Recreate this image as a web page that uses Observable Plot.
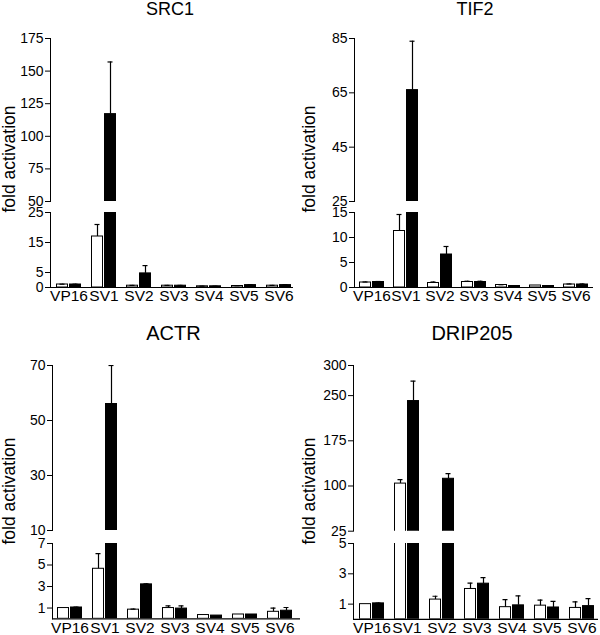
<!DOCTYPE html>
<html><head><meta charset="utf-8">
<script src="https://cdn.jsdelivr.net/npm/d3@7"></script>
<script src="https://cdn.jsdelivr.net/npm/@observablehq/plot@0.6"></script>
<style>
body{margin:0;background:#fff;}
#chart{position:relative;width:600px;height:635px;font-family:"Liberation Sans",Arial,Helvetica,sans-serif;color:#000;overflow:hidden;}
#chart svg{position:absolute;overflow:visible;}
.title{position:absolute;line-height:1;white-space:nowrap;transform:translateX(-50%);}
.ylab{position:absolute;width:200px;text-align:center;font-size:17.5px;line-height:18px;white-space:nowrap;transform:rotate(-90deg);}
</style></head>
<body><div id="chart"></div>
<script>
// ---- data ----
const categories = ["VP16","SV1","SV2","SV3","SV4","SV5","SV6"];

const src1White    = [1.0, 17, 0.6, 0.6, 0.4, 0.5, 0.6];
const src1WhiteErr = [0.1, 4, 0.1, 0.1, 0.05, 0.1, 0.1];
const src1Black    = [1.0, 117, 4.7, 0.6, 0.4, 0.8, 0.8];
const src1BlackErr = [0.1, 40, 2.6, 0.1, 0.05, 0.15, 0.15];
const src1UpperTicks = [50, 75, 100, 125, 150, 175];
const src1LowerTicks = [0, 5, 15, 25];

const tif2White    = [1.0, 11.3, 0.9, 1.1, 0.5, 0.4, 0.6];
const tif2WhiteErr = [0.1, 3.3, 0.2, 0.15, 0.05, 0, 0.1];
const tif2Black    = [1.1, 66, 6.6, 1.1, 0.3, 0.3, 0.6];
const tif2BlackErr = [0.1, 18, 1.6, 0.15, 0, 0, 0.1];
const tif2UpperTicks = [25, 45, 65, 85];
const tif2LowerTicks = [0, 5, 10, 15];

const actrWhite    = [1.0, 4.65, 0.85, 1.0, 0.35, 0.4, 0.65];
const actrWhiteErr = [0, 1.4, 0.05, 0.2, 0, 0, 0.35];
const actrBlack    = [1.05, 56, 3.2, 0.95, 0.3, 0.4, 0.75];
const actrBlackErr = [0.03, 14, 0.05, 0.25, 0, 0, 0.3];
const actrUpperTicks = [10, 30, 50, 70];
const actrLowerTicks = [1, 3, 5, 7];

const dripWhite    = [1.0, 104, 1.3, 2.0, 0.8, 0.9, 0.75];
const dripWhiteErr = [0, 6.5, 0.22, 0.38, 0.5, 0.37, 0.4];
const dripBlack    = [1.05, 241, 112, 2.35, 0.92, 0.78, 0.87];
const dripBlackErr = [0.02, 33, 8.5, 0.4, 0.62, 0.4, 0.5];
const dripUpperTicks = [25, 100, 175, 250, 300];
const dripLowerTicks = [1, 3, 5];

const yLabel = "fold activation";

// ---- layout ----
const panels = [
  {title:"SRC1", white:src1White, whiteErr:src1WhiteErr, black:src1Black, blackErr:src1BlackErr,
   upperTicks:src1UpperTicks, lowerTicks:src1LowerTicks,
   L:{left:0, axis:50, right:293, c0:67, c6:279, upper:[38,201], lower:[212,287], tx:170, ty:0, tf:18, yx:9, yy:159, tp:2}},
  {title:"TIF2", white:tif2White, whiteErr:tif2WhiteErr, black:tif2Black, blackErr:tif2BlackErr,
   upperTicks:tif2UpperTicks, lowerTicks:tif2LowerTicks,
   L:{left:300, axis:354, right:593, c0:369, c6:578, upper:[38,201], lower:[212,287], tx:475, ty:0, tf:18, yx:309, yy:159, tp:2}},
  {title:"ACTR", white:actrWhite, whiteErr:actrWhiteErr, black:actrBlack, blackErr:actrBlackErr,
   upperTicks:actrUpperTicks, lowerTicks:actrLowerTicks,
   L:{left:0, axis:52, right:300, c0:67, c6:281, upper:[365,530], lower:[542.7,618], tx:173.5, ty:323, tf:20, yx:9, yy:491, tp:3}},
  {title:"DRIP205", white:dripWhite, whiteErr:dripWhiteErr, black:dripBlack, blackErr:dripBlackErr,
   upperTicks:dripUpperTicks, lowerTicks:dripLowerTicks,
   L:{left:300, axis:353, right:598, c0:369.5, c6:584, upper:[365,530.7], lower:[542.7,618.5], tx:472, ty:323, tf:20, yx:309, yy:491, tp:3}}
];

const chart = document.getElementById("chart");
const BAR = 11, OFF = 6.5;

function segment(p, rows, which) {
  const L = p.L;
  const isLower = which === "lower";
  const [yT, yB] = L[which];
  const ticks = isLower ? p.lowerTicks : p.upperTicks;
  const domain = isLower ? [0, d3.max(ticks)] : [d3.min(ticks), d3.max(ticks)];
  const mt = 10, mb = isLower ? 24 : 2;
  const step = (L.c6 - L.c0) / 6;
  const pad = 1 - BAR / step;
  const whites = rows.filter(d => d.s === "white");
  const blacks = rows.filter(d => d.s === "black");
  const errW = whites.filter(d => d.e > 0);
  const errB = blacks.filter(d => d.e > 0);
  const svg = Plot.plot({
    width: 300,
    height: mt + (yB - yT) + mb,
    marginTop: mt, marginBottom: mb,
    marginLeft: L.axis - L.left,
    marginRight: L.left + 300 - L.right,
    style: {background: "none", fontSize: "14px", fontFamily: "'Liberation Sans', Arial, sans-serif", color: "black", overflow: "visible"},
    x: {type: "band", domain: categories,
        range: [L.c0 - step / 2 - L.left, L.c6 + step / 2 - L.left],
        paddingInner: pad, paddingOuter: pad / 2,
        axis: null, label: null},
    y: {domain, ticks, tickFormat: d => String(d), tickSize: 5, tickPadding: 2, line: true, label: null},
    marks: [
      Plot.barY(whites, {x: "cat", y1: 0, y2: "v", fill: "white", stroke: "black", strokeWidth: 1, dx: -OFF, clip: true}),
      Plot.barY(blacks, {x: "cat", y1: 0, y2: "v", fill: "black", stroke: "black", strokeWidth: 1, dx: OFF, clip: true}),
      Plot.ruleX(errW, {x: "cat", y1: "v", y2: d => d.v + d.e, stroke: "black", strokeWidth: 1.2, dx: -OFF, clip: true}),
      Plot.ruleX(errB, {x: "cat", y1: "v", y2: d => d.v + d.e, stroke: "black", strokeWidth: 1.2, dx: OFF, clip: true}),
      Plot.tickY(errW, {x: "cat", y: d => d.v + d.e, stroke: "black", strokeWidth: 1.2, insetLeft: 3, insetRight: 3, dx: -OFF, clip: true}),
      Plot.tickY(errB, {x: "cat", y: d => d.v + d.e, stroke: "black", strokeWidth: 1.2, insetLeft: 3, insetRight: 3, dx: OFF, clip: true}),
      ...(isLower ? [
        Plot.ruleY([0], {stroke: "black", strokeWidth: 1.2}),
        Plot.axisX({tickSize: 0, tickPadding: L.tp, fontSize: 15.5, label: null})
      ] : [])
    ]
  });
  svg.style.left = L.left + "px";
  svg.style.top = (yT - mt) + "px";
  chart.appendChild(svg);
}

for (const p of panels) {
  const rows = categories.flatMap((c, i) => [
    {cat: c, s: "white", v: p.white[i], e: p.whiteErr[i]},
    {cat: c, s: "black", v: p.black[i], e: p.blackErr[i]}
  ]);
  segment(p, rows, "upper");
  segment(p, rows, "lower");
  const t = document.createElement("div");
  t.className = "title";
  t.textContent = p.title;
  t.style.left = p.L.tx + "px";
  t.style.top = p.L.ty + "px";
  t.style.fontSize = p.L.tf + "px";
  chart.appendChild(t);
  const yl = document.createElement("div");
  yl.className = "ylab";
  yl.textContent = yLabel;
  yl.style.left = (p.L.yx - 100) + "px";
  yl.style.top = (p.L.yy - 9) + "px";
  chart.appendChild(yl);
}
</script></body></html>
